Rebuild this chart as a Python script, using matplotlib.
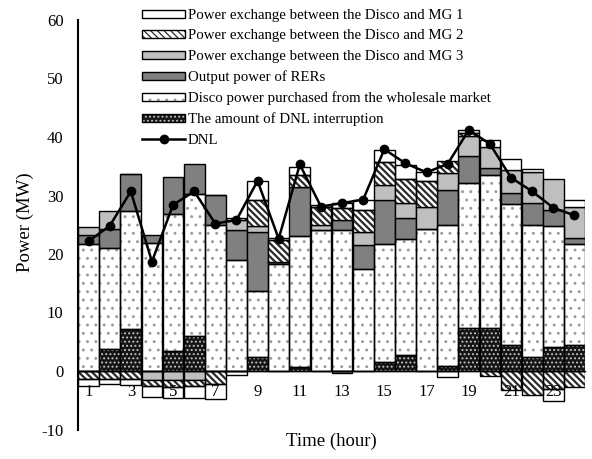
import matplotlib
matplotlib.use('Agg')
import matplotlib.pyplot as plt
import numpy as np
from matplotlib.patches import Patch
from matplotlib.lines import Line2D
from matplotlib.legend_handler import HandlerTuple

# ---------------- data ----------------
hours = list(range(1, 25))
xtick_hours = list(range(1, 25, 2))
ytick_values = list(range(-10, 61, 10))

dnl_interruption = [0, 3.7, 7.1, 0, 3.4, 5.9, 0, 0, 2.45, 0, 0.75, 0,
                    0, 0, 1.6, 2.7, 0, 0.85, 7.4, 7.4, 4.4, 2.45, 4.15, 4.45]
disco_purchase = [21.7, 17.3, 20.2, 21.9, 23.5, 24.4, 25.0, 19.0, 11.3, 18.3, 22.3, 24.1,
                  24.1, 17.4, 20.1, 19.9, 24.2, 24.1, 24.7, 26.1, 24.2, 22.5, 20.6, 17.3]
rers_output = [1.5, 3.2, 6.3, 1.4, 6.3, 5.1, 5.1, 5.1, 10.0, 0.4, 8.4, 0,
               1.7, 4.1, 7.6, 3.5, 0, 6.0, 4.6, 1.25, 1.8, 3.8, 2.85, 0.95]
mg3_exchange = [1.5, 3.1, 0, -1.6, -1.6, -1.6, 0, 1.7, 1.1, 0, 0, 0.85,
                -0.35, 2.3, 2.45, 2.7, 3.8, 2.85, 3.5, 3.6, 3.9, 5.2, 5.3, 5.3]
mg2_exchange = [-1.4, -1.3, -1.3, -1.0, -1.1, -1.0, -2.3, 0.4, 4.3, 3.7, 2.0, 3.0,
                2.0, 3.8, 4.0, 4.0, 4.4, 2.1, 0.5, -0.85, -3.3, -4.1, -3.1, -2.7]
mg1_exchange = [-1.1, -0.9, -1.1, -1.9, -1.9, -2.0, -2.5, -0.6, 3.4, 0.4, 1.5, 0.4,
                1.0, 1.6, 2.0, 2.4, 1.7, -1.0, 0.5, 1.15, 2.0, 0.55, -2.1, 1.25]
dnl = [22.2, 24.8, 30.7, 18.7, 28.4, 30.7, 25.2, 25.8, 32.5, 22.6, 35.3, 28.1,
       28.7, 29.3, 37.9, 35.5, 33.95, 35.4, 41.2, 38.8, 33.05, 30.7, 27.9, 26.6]

labels = {
    'mg1': 'Power exchange between the Disco and MG 1',
    'mg2': 'Power exchange between the Disco and MG 2',
    'mg3': 'Power exchange between the Disco and MG 3',
    'rers': 'Output power of RERs',
    'disco': 'Disco power purchased from the wholesale market',
    'dnlint': 'The amount of DNL interruption',
    'dnl': 'DNL',
}

# ---------------- style ----------------
plt.rcParams['font.family'] = ['Liberation Serif', 'DejaVu Serif']
plt.rcParams['axes.unicode_minus'] = False
plt.rcParams['hatch.linewidth'] = 0.9

styles = {
    'dnlint': dict(face='#151515', hatch='....', hcolor='#c0c0c0', hlw=0.9),
    'disco': dict(face='white', hatch='..', hcolor='#9a9a9a', hlw=0.9),
    'rers': dict(face='#808080', hatch=None),
    'mg3': dict(face='#bfbfbf', hatch=None),
    'mg2': dict(face='white', hatch='\\\\\\\\\\', hcolor='#2a2a2a', hlw=1.6),
    'mg1': dict(face='white', hatch=None),
}
order = [('dnlint', dnl_interruption), ('disco', disco_purchase), ('rers', rers_output),
         ('mg3', mg3_exchange), ('mg2', mg2_exchange), ('mg1', mg1_exchange)]


def set_hlw(patches, lw):
    for p in patches:
        if hasattr(p, 'set_hatch_linewidth'):
            p.set_hatch_linewidth(lw)


fig = plt.figure(figsize=(5.92, 4.59), dpi=100)
ax = fig.add_axes([78 / 592, 29.5 / 459, 507 / 592, 409.5 / 459])

x = np.array(hours, dtype=float)
pos = np.zeros(len(x))
neg = np.zeros(len(x))
width = 0.98
edge_lw = 1.0

for key, vals in order:
    v = np.array(vals, dtype=float)
    bottom = np.where(v >= 0, pos, neg)
    st = styles[key]
    if st['hatch']:
        bars = ax.bar(x, v, width, bottom=bottom, color=st['face'], edgecolor=st['hcolor'],
                      hatch=st['hatch'], linewidth=0, zorder=1)
        set_hlw(bars, st['hlw'])
        ax.bar(x, v, width, bottom=bottom, fill=False, edgecolor='black',
               linewidth=edge_lw, zorder=1.1)
    else:
        ax.bar(x, v, width, bottom=bottom, color=st['face'], edgecolor='black',
               linewidth=edge_lw, zorder=1)
    pos = pos + np.where(v > 0, v, 0)
    neg = neg + np.where(v < 0, v, 0)

ax.plot(x, dnl, color='black', lw=1.8, marker='o', ms=6, zorder=3)

ax.set_xlim(0.5, 24.5)
ax.set_ylim(-10, 60)
ax.set_yticks(ytick_values)
ax.set_xticks(xtick_hours)
ax.set_xticklabels([str(h) for h in xtick_hours])
ax.tick_params(axis='y', length=0, pad=10.5, labelsize=12)
ax.tick_params(axis='x', length=0, pad=9, labelsize=12)
for s in ['top', 'right']:
    ax.spines[s].set_visible(False)
ax.spines['left'].set_linewidth(1.5)
ax.spines['bottom'].set_position(('data', 0))
ax.spines['bottom'].set_linewidth(1.0)
ax.patch.set_visible(False)

fig.text(331.5 / 592, 18 / 459, 'Time (hour)', ha='center', va='center', fontsize=13.5)
fig.text(25 / 592, 1 - 222 / 459, 'Power (MW)', ha='center', va='center',
         rotation=90, fontsize=13.5)

# ---------------- legend ----------------
handles = []
leg_labels = []
for key in ['mg1', 'mg2', 'mg3', 'rers', 'disco', 'dnlint']:
    st = styles[key]
    if st['hatch']:
        hp = Patch(facecolor=st['face'], edgecolor=st['hcolor'], hatch=st['hatch'], linewidth=0)
        set_hlw([hp], st['hlw'])
        h = (hp, Patch(fill=False, edgecolor='black', linewidth=edge_lw))
    else:
        h = Patch(facecolor=st['face'], edgecolor='black', linewidth=edge_lw)
    handles.append(h)
    leg_labels.append(labels[key])
handles.append(Line2D([], [], color='black', lw=1.8, marker='o', ms=6))
leg_labels.append(labels['dnl'])

fig.legend(handles, leg_labels, loc='upper left', bbox_to_anchor=(142 / 592, 1 - 9 / 459),
           bbox_transform=fig.transFigure, frameon=False, fontsize=10.7,
           handlelength=2.9, handleheight=0.45, handletextpad=0.2, labelspacing=0.5,
           borderpad=0, borderaxespad=0,
           handler_map={tuple: HandlerTuple(ndivide=1, pad=0)})

fig.savefig('out.png', dpi=100)
